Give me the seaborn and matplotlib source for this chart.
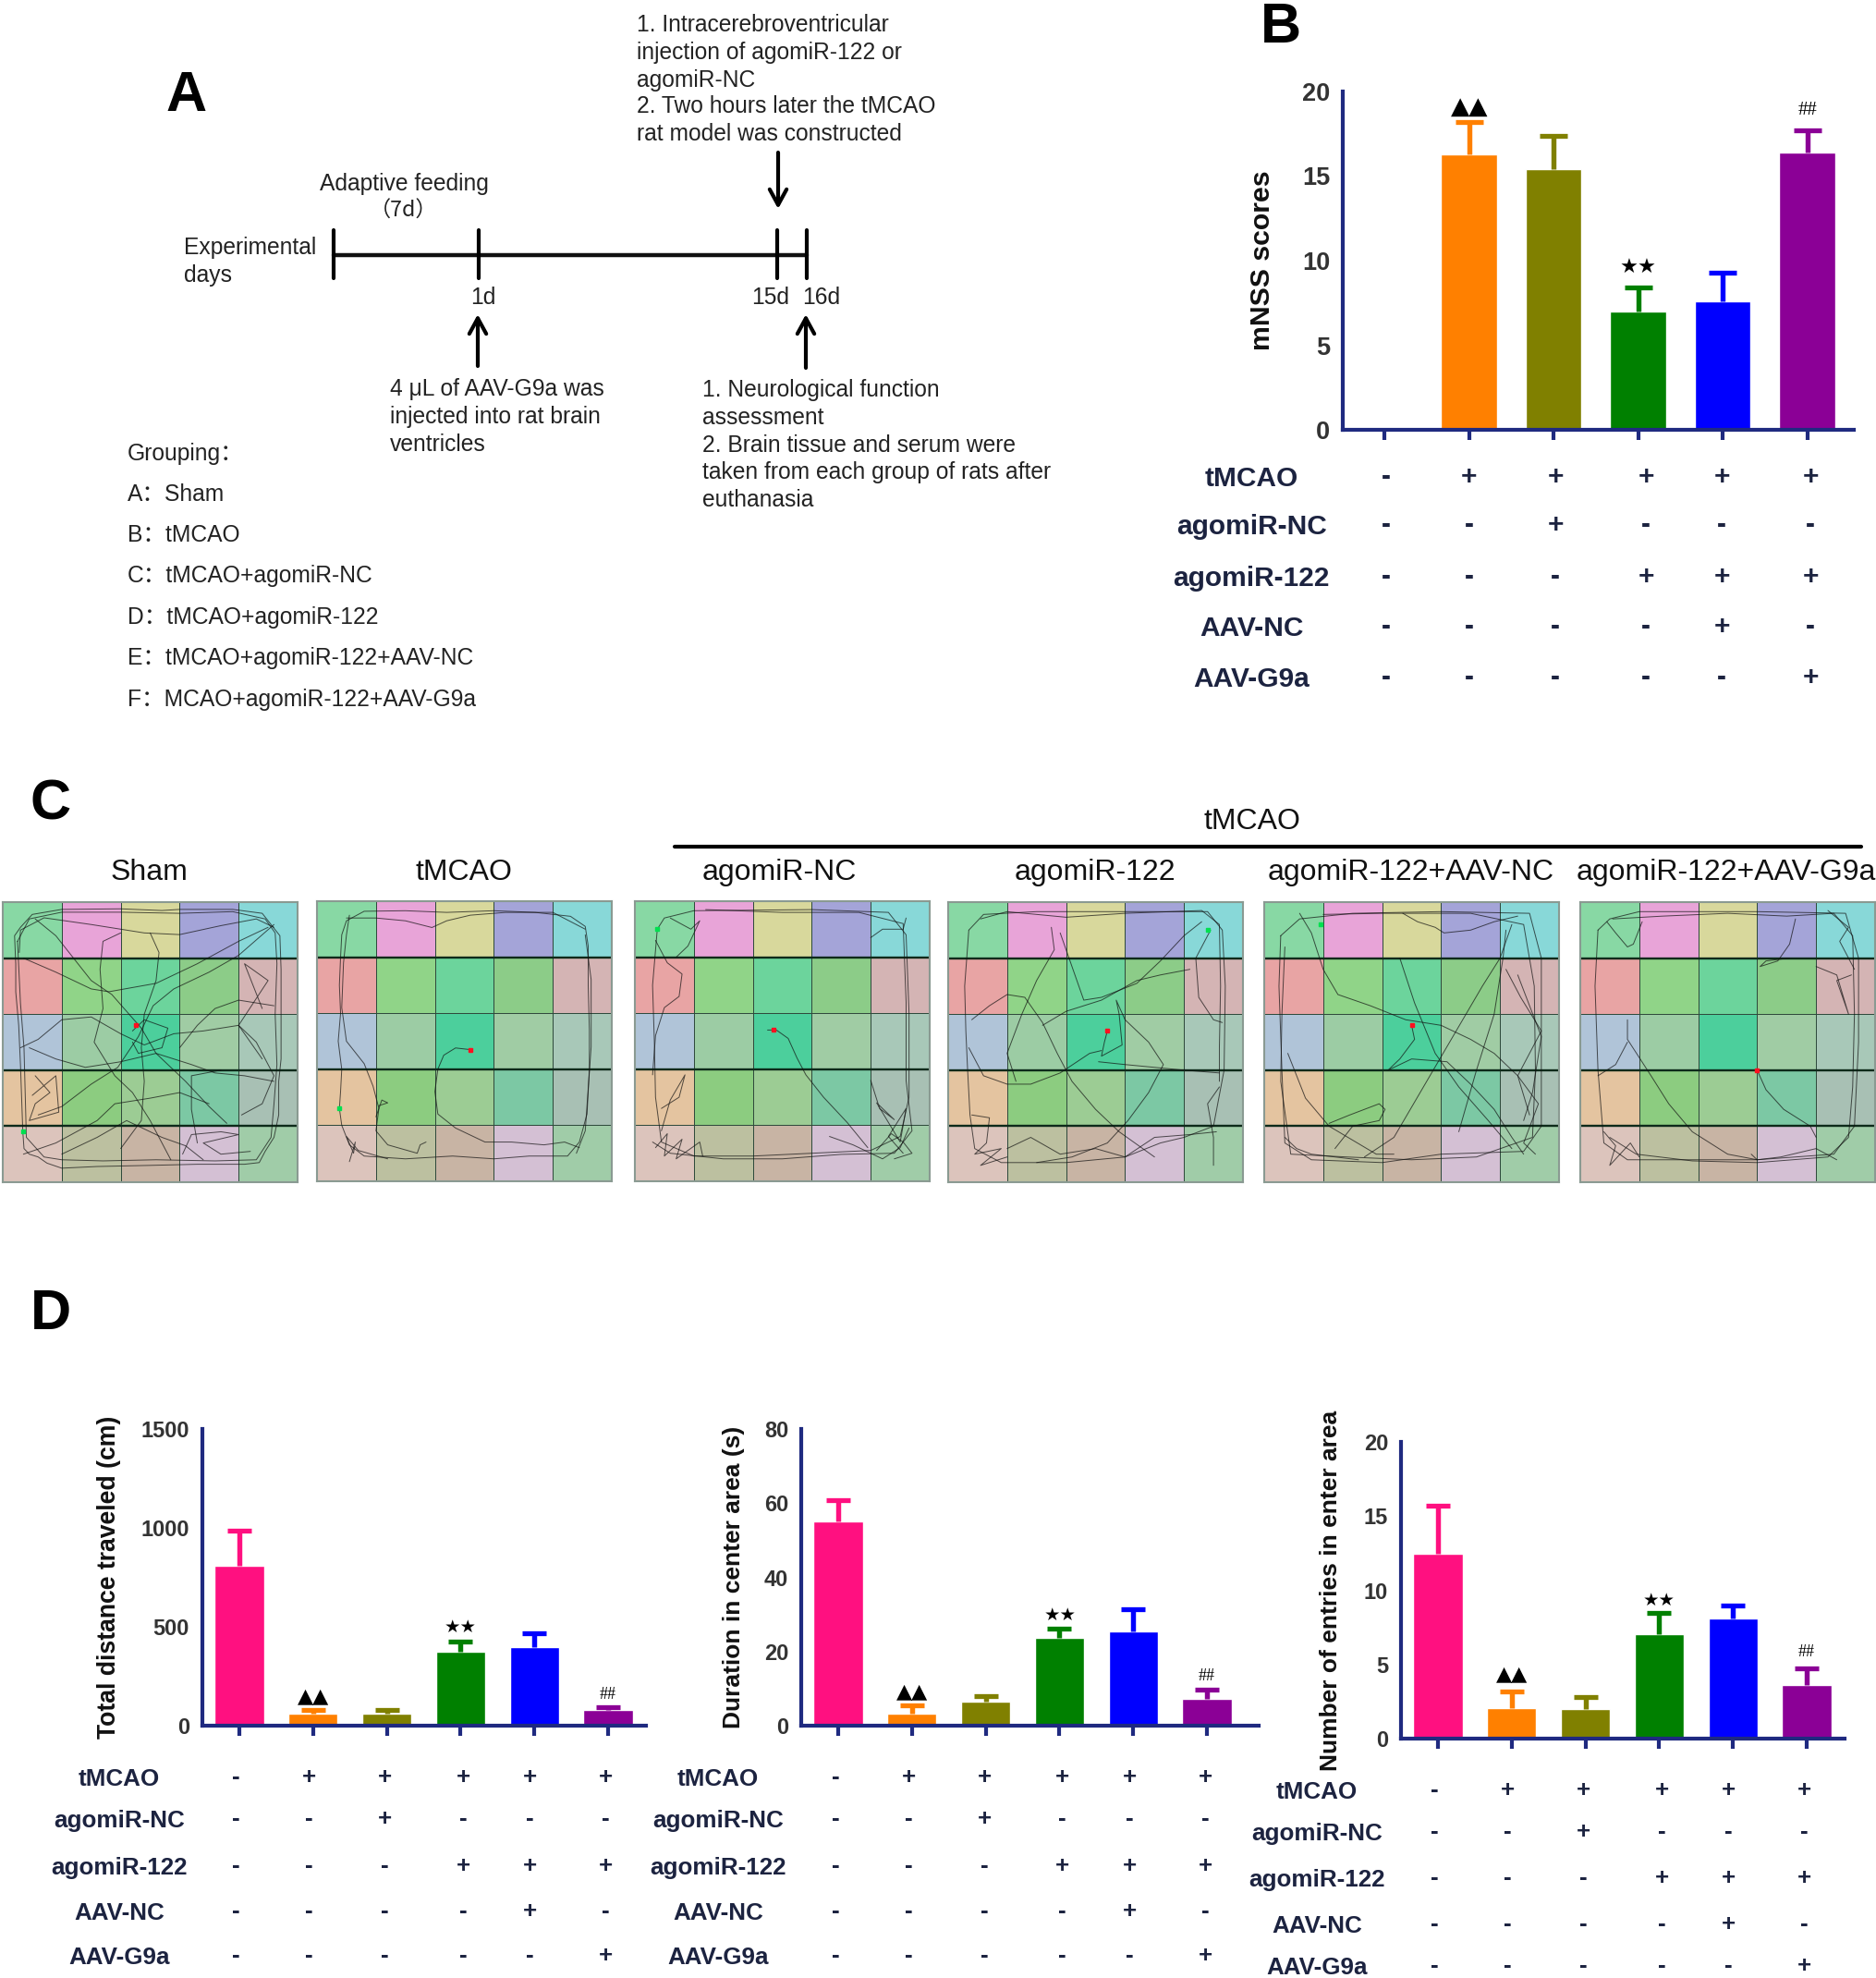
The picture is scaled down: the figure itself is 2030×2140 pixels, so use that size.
import numpy as np
import seaborn as sns
import matplotlib
matplotlib.use('Agg')
import matplotlib.pyplot as plt
from matplotlib.colors import ListedColormap

W, H = 2031, 2140

groups = ['Sham', 'tMCAO', 'agomiR-NC', 'agomiR-122', 'AAV-NC', 'AAV-G9a']
bar_colors = ['#ff1080', '#ff8000', '#808000', '#008000', '#0000ff', '#8b0096']

mnss_mean = [0, 16.3, 15.4, 7.0, 7.6, 16.4]
mnss_top = [0, 18.2, 17.4, 8.4, 9.3, 17.7]
dist_mean = [810, 60, 60, 375, 395, 80]
dist_top = [985, 80, 78, 425, 465, 95]
dur_mean = [55, 3.3, 6.5, 23.6, 25.3, 7.2]
dur_top = [60.8, 5.4, 8, 26.1, 31.3, 9.7]
entry_mean = [12.45, 2.06, 2, 7.07, 8.07, 3.62]
entry_top = [15.7, 3.2, 2.8, 8.46, 9, 4.76]

row_names = ['tMCAO', 'agomiR-NC', 'agomiR-122', 'AAV-NC', 'AAV-G9a']
row_signs = ['-+++++', '--+---', '---+++', '----+-', '-----+']

cell_colors = ['#88d8a4', '#e8a4d8', '#d8d89c', '#a4a4d8', '#88d8d8',
               '#e8a4a4', '#90d488', '#6cd49c', '#8ccc88', '#d4b4b4',
               '#b0c4d8', '#9ccca4', '#4ccf9c', '#a0cca4', '#a8c8b8',
               '#e4c4a0', '#8ccc80', '#9ccc94', '#7cc8a4', '#a8c0b4',
               '#dcc4bc', '#bcc0a0', '#c8b4a4', '#d4c0d4', '#a0cca8']

track_titles = ['Sham', 'tMCAO', 'agomiR-NC', 'agomiR-122', 'agomiR-122+AAV-NC', 'agomiR-122+AAV-G9a']

# paths, in cell units of the 5x5 arena
tracks_sham = [
    [(.34,4.1),(.36,4.4),(.45,4.5),(.6,4.55),(.75,4.66),(1,4.75),(1.6,4.72),(2.5,4.7),(3.3,4.68),(4.1,4.68),(4.35,4.65),(4.45,4.45),(4.6,4.2),(4.68,3.8),(4.68,3.2),(4.72,2.8),(4.72,2),(4.72,1.2),(4.7,.6),(4.55,.4),(4.4,.2),(3.9,.13),(3,.13),(2.7,.15),(2,.12),(1,.13),(.5,.22),(.3,.45),(.2,.6),(.22,1.1),(.22,1.6),(.27,2.2),(.3,2.9),(.32,3.5),(.34,4.1)],
    [(.25,.7),(.45,.3),(1,.18),(2,.18),(3,.2),(3.9,.17),(4.45,.3),(4.62,.55),(4.65,1.1),(4.62,2),(4.65,2.9),(4.6,3.6),(4.55,4.2),(4.3,4.6),(3.6,4.62),(2.6,4.6),(1.7,4.62),(1,4.6),(.7,4.55),(.4,4.2),(.38,3.4),(.36,2.6),(.3,1.8),(.25,.7)],
    [(.28,.9),(.3,.5),(.7,.28),(1.5,.4),(2.4,.55),(3,.58),(3.7,.42),(4.3,.3),(4.6,.45)],
    [(.55,.3),(.9,.6),(1.2,1),(1.5,1.4),(1.85,1.65),(2.1,1.95),(2.35,2.25),(2.6,2.7),(3.1,3.2),(3.5,3.65),(3.8,3.95)],
    [(4.6,.4),(4,.95),(3.5,1.25),(2.9,1.55),(2.55,1.85),(2.3,2.4),(1.95,2.95),(1.5,3.25),(1,3.65),(.6,3.8)],
    [(.35,1),(.9,1.25),(1.5,1.55),(1.8,1.6),(2.6,1.45),(3.3,1.1),(4,.7),(4.5,.45)],
    [(2,.55),(1.7,.7),(1.65,1.2),(1.7,1.9),(1.55,2.5),(1.9,3.1),(2.2,3.4),(2.5,3.9),(2.85,4.6)],
    [(2.5,.55),(2.65,.9),(2.6,1.4),(2.4,2),(2.35,2.6),(2.4,3.2),(2.35,3.9),(2,4.4)],
    [(.3,2.6),(.6,2.45),(1,2.1),(1.5,2.05),(2,2.35),(2.4,2.55),(2.9,2.35),(3.4,2.3),(4,2.2),(4.4,2.8)],
    [(.45,2.6),(.9,2.8),(1.4,2.95),(2,2.85),(2.6,2.7),(3.2,2.9),(3.6,3.05),(4.1,3.1),(4.6,3.2)],
    [(.55,3.1),(.8,3.4),(.55,3.6),(.45,3.9),(.95,3.75),(.9,3.1),(.5,3.45)],
    [(.35,4.5),(.9,4.3),(1.6,3.9),(1.9,3.6),(2.5,3.5),(3,3.4),(3.5,3.6)],
    [(1,4.5),(1.6,4.2),(2.1,3.9),(2.7,4.2),(3.1,4.35),(3.4,4.6)],
    [(3.05,4.5),(3.2,4.15),(3.7,4.1),(4,4.15),(3.4,4.3),(3.7,4.5),(4.2,4.45)],
    [(4.05,3.8),(4.4,3.6),(4.6,3.1),(4.3,2.5),(4,2.2),(4.5,1.4),(4.1,1.1),(4.4,1.9)],
    [(2.2,2.3),(2.4,2.1),(2.8,2.25),(2.7,2.6),(2.3,2.7),(2.2,2.5)],
    [(3,2.6),(3.3,2.2),(3.6,1.9),(4,1.75),(4.6,1.85)],
    [(3.7,3),(3.2,3.1),(3.2,3.7),(3.3,4.3)],
]
tracks_tmcao = [
    [(.38,3.7),(.4,3.4),(.42,3),(.36,2.5),(.4,2),(.38,1.5),(.4,1),(.42,.6),(.5,.35),(.8,.18),(1.5,.17),(2.2,.2),(3,.17),(3.7,.2),(4.3,.27),(4.55,.45),(4.6,.8),(4.6,1.5),(4.62,2.3),(4.62,3),(4.58,3.8),(4.45,4.3),(4.25,4.55),(3.6,4.55),(3,4.6),(2.3,4.55),(1.5,4.6),(.8,4.55),(.55,4.35),(.42,4),(.38,3.7)],
    [(.55,.25),(.5,.6),(.45,1.1),(.42,1.9),(.5,2.5),(.8,2.9),(.95,3.3),(1.05,3.7),(1,4.1),(1.2,4.35),(1.7,4.5),(1.75,4.35),(1.85,4.3)],
    [(.5,.3),(1,.3),(1.5,.35),(1.95,.47),(2.2,.35),(2.6,.25),(3.2,.2),(4,.2),(4.55,.5)],
    [(2.6,2.65),(2.35,2.62),(2.15,2.75),(2.05,3),(2,3.4),(2.05,3.8),(2.35,4.05),(2.85,4.3),(3.3,4.3),(3.85,4.35),(4.2,4.3),(4.45,4.4)],
    [(.55,4.65),(.65,4.3),(.62,4.5),(.5,4.2),(.7,4.45),(1.2,4.6)],
    [(1.05,3.65),(1.2,3.6),(1.1,3.55),(1,3.85)],
    [(4.55,.6),(4.65,1.4),(4.65,2.6),(4.55,4.1),(4.4,4.5)],
]
tracks_nc = [
    [(.38,.5),(.3,1.5),(.33,2.5),(.35,3.5),(.45,4.3),(1,4.55),(2,4.55),(3,4.5),(4,4.45),(4.5,4.2),(4.65,3.5),(4.65,2),(4.6,.6),(4.3,.2),(3,.15),(1,.17),(.5,.3),(.38,.5)],
    [(.3,4.3),(.6,4.5),(1.5,4.6),(2.5,4.6),(3.5,4.52),(4.4,4.5),(4.7,4.1),(4.6,3.2),(4.6,1.8),(4.55,.4),(3.8,.2),(2.5,.2),(1.2,.15)],
    [(2.25,2.3),(2.4,2.3),(2.6,2.45),(2.75,2.8),(2.9,3.1),(3.2,3.5),(3.6,3.95),(3.95,4.4)],
    [(.35,.7),(.55,1.1),(.8,1.3),(.75,1.7),(.5,1.9),(.35,2.4),(.3,3.1)],
    [(.6,.3),(.95,.5),(1.1,.35),(.9,.8),(.7,1)],
    [(.45,3.7),(.75,3.5),(.85,3.1),(.6,3.55),(.45,4.1)],
    [(.35,4.4),(.55,4.15),(.5,4.55),(.8,4.25),(.7,4.6),(1.1,4.3),(1.15,4.55)],
    [(3.3,4.2),(3.7,4.35),(4.2,4.6),(4.5,4.4),(4.65,4.05)],
    [(4,3.2),(4.15,3.7),(4.4,3.9),(4.1,3.6),(4.5,4.3),(4.6,3.7),(4.3,4.2),(4.55,4.5)],
    [(4,.65),(4.2,.5),(4.55,.5),(4.6,.3)],
    [(4.1,4.45),(4.35,4.15),(4.55,4.3),(4.7,4.5),(4.4,4.6)],
]
tracks_122 = [
    [(.35,.5),(.28,1.5),(.3,2.3),(.33,3),(.37,3.8),(.45,4.4),(.9,4.65),(2,4.65),(3,4.55),(3.6,4.3),(4,4.2),(4.5,4),(4.68,3),(4.7,1.5),(4.65,.5),(4.4,.17),(3,.17),(1.5,.17),(.6,.22),(.35,.5)],
    [(.55,.3),(1,.17),(2,.27),(3,.2),(4.3,.15),(4.6,.4),(4.62,1.5),(4.6,2.6),(4.6,3.2)],
    [(2.7,2.3),(2.65,2.5),(2.6,2.75),(2.95,2.55),(2.9,2),(2.85,1.75),(3,2.1),(3.4,2.5),(3.65,2.9),(3.4,3.4),(3.05,3.9),(2.7,4.3),(2.1,4.55),(1.5,4.65)],
    [(2.55,2.85),(3,2.9),(3.5,2.95),(4,3),(4.6,3.05)],
    [(.35,2.6),(.6,3.1),(1,3.25),(1.4,3.25),(1.9,3.05),(2.4,2.7),(2.6,2.65)],
    [(.4,2.1),(.7,1.85),(1,1.65),(1.3,1.7),(1.6,2.15),(1.85,2.7),(2.1,3.2),(2.5,3.7),(2.9,4.1),(3.3,4.4),(3.5,4.55)],
    [(1.75,.45),(1.8,.85),(1.5,1.4),(1.25,2),(1,2.7),(1.15,3.2)],
    [(1.6,2.2),(2,1.95),(2.6,1.75),(3.2,1.4),(3.6,1.3),(4.1,1.2)],
    [(1.9,.55),(2.1,1.15),(2.3,1.75),(2.6,1.7),(3.2,1.45),(3.6,1.05),(4,.6),(4.3,.35)],
    [(.4,3.8),(.7,3.85),(.65,4.3),(.45,4.5),(.9,4.4),(.55,4.7),(1,4.55)],
    [(1,4.4),(1.4,4.2),(1.9,4.5),(2.5,4.4),(3,4.55),(3.5,4.2),(4.1,4.15),(4.55,4.1)],
    [(4.45,.5),(4.2,1),(4.25,1.7),(4.5,2.1),(4.65,2.15)],
    [(4.5,4.7),(4.5,4.2),(4.4,3.6),(4.6,3.3)],
]
tracks_nc_aav = [
    [(.28,.6),(.25,1.5),(.3,3),(.35,4.3),(.8,4.6),(2,4.65),(3,4.5),(4.4,4.45),(4.7,4),(4.7,2.5),(4.7,1),(4.5,.2),(3,.17),(1.5,.2),(.6,.3),(.28,.6)],
    [(.35,.8),(.3,2),(.28,3.2),(.45,4.5),(1.4,4.55),(2.5,4.6),(3.6,4.55),(4.55,4.2),(4.6,3),(4.58,1.5),(4.4,.4),(3.5,.2),(2,.2),(1,.22)],
    [(2.5,2.2),(2.55,2.45),(2.3,2.8),(2.1,3),(2.5,2.8),(3.1,2.85),(3.5,3.25),(3.9,3.7),(4.2,4.2),(4.4,4.5)],
    [(.6,.2),(.8,.55),(1,1.2),(1.25,1.65),(1.8,1.85),(2.4,2.1),(3,2.2),(3.5,2.45),(3.9,2.7),(4.3,3.1),(4.5,3.8)],
    [(2.35,.2),(2.6,.35),(2.9,.45),(3.05,.55),(3.5,.5),(3.9,.35),(4.3,.25)],
    [(1.1,3.95),(1.45,3.8),(1.95,3.6),(2.05,3.7),(1.95,3.9),(1.5,4),(1.2,4.4)],
    [(4.2,.4),(4,1),(3.7,1.5),(3.2,2.4),(2.7,3.3),(2.2,4.2),(1.7,4.55)],
    [(2.3,1),(2.55,1.8),(2.9,2.7),(3.3,3.3),(3.8,3.9),(4.2,4.4)],
    [(.4,2.7),(.7,3.5),(1.1,4),(1.9,4.5),(2.2,4.5)],
    [(4.1,1.2),(4.35,1.7),(4.7,2.3),(4.3,3.1),(4.65,3.6),(4.4,4.3),(4.6,4.5)],
    [(.35,4.2),(.55,4.4),(.8,4.5),(1.6,4.6)],
    [(4.1,.5),(4.05,1),(3.9,2),(3.6,3),(3.3,4.1)],
    [(4.3,1.3),(4.7,2.4),(4.55,3.4),(4.4,3.9)],
]
tracks_g9a = [
    [(.3,.5),(.25,1.5),(.3,3),(.4,4.3),(.8,4.6),(2,4.6),(3,4.6),(4.3,4.5),(4.65,4),(4.72,2.5),(4.72,1),(4.5,.2),(3,.17),(1,.17),(.5,.3),(.3,.5)],
    [(.55,.3),(1.4,.25),(2.5,.2),(3.5,.25),(4.3,.2),(4.62,.6),(4.65,2),(4.62,3.3),(4.55,4.2),(4.2,4.55),(3,4.65),(1.9,4.62),(.95,4.5),(.5,4.2)],
    [(.8,2.1),(.8,2.45),(1.2,3.1),(1.5,3.6),(1.9,4.1),(2.5,4.5),(3,4.6)],
    [(3,3),(3.15,3.35),(3.45,3.7),(3.9,4),(4,4.2)],
    [(.8,2.5),(.6,2.9),(.3,3.1)],
    [(.45,.35),(.6,.55),(.8,.8),(.9,.75),(1.05,.35)],
    [(3.65,.3),(3.55,.75),(3.35,1.05),(3.05,1.15),(3.15,1.05),(3.55,1)],
    [(4,1.15),(4.35,1.3),(4.55,2),(4.35,1.4),(4.6,1.3)],
    [(.4,4.1),(.6,4.35),(.5,4.7),(.85,4.3),(1,4.55)],
    [(4.2,.15),(4.55,.45),(4.4,.7),(4.65,1.2)],
    [(2.9,4.5),(3,4.6),(3.4,4.55),(4,4.4),(4.35,4.6)],
]
all_tracks = [tracks_sham, tracks_tmcao, tracks_nc, tracks_122, tracks_nc_aav, tracks_g9a]
start_pts = [(.34,4.1),(.38,3.7),(.38,.5),(4.4,.5),(.95,.4),None]
end_pts = [(2.25,2.2),(2.6,2.65),(2.35,2.3),(2.7,2.3),(2.5,2.2),(3,3)]
heavy_rows = [[1, 3, 4], [1, 3], [1, 3], [1, 3, 4], [1, 3, 4], [1, 3, 4]]

sns.set_theme(style='white')
plt.rcParams['font.family'] = ['Liberation Sans', 'DejaVu Sans']

fig = plt.figure(figsize=(W / 100, H / 100), dpi=100, facecolor='white')


def px_axes(x0, y0, x1, y1):
    return fig.add_axes([x0 / W, 1 - y1 / H, (x1 - x0) / W, (y1 - y0) / H])


def bar_panel(box, c0, step, mean, top, ymax, yticks, ylabel, tick_fs, label_fs, label_x, cap):
    ax = px_axes(*box)
    sns.barplot(x=list(range(6)), y=mean, hue=list(range(6)), palette=bar_colors, legend=False,
                width=0.665, ax=ax, saturation=1, native_scale=True)
    for i in range(6):
        if mean[i] > 0:
            ax.vlines(i, mean[i], top[i], color=bar_colors[i], lw=3.9, zorder=1)
            ax.plot(i, top[i], marker='_', ms=cap, mew=3.8, color=bar_colors[i], zorder=1, clip_on=False)
    ax.set_xlim((box[0] - c0) / step, (box[2] - c0) / step)
    ax.set_ylim(0, ymax)
    ax.set_yticks(yticks)
    ax.set_xticks(range(6))
    ax.set_xticklabels([])
    ax.tick_params(axis='y', length=8, width=3, color='#1f2a80', labelsize=tick_fs, labelcolor='#333333', pad=2)
    ax.tick_params(axis='x', length=8, width=3, color='#1f2a80', bottom=True)
    for lab in ax.get_yticklabels():
        lab.set_fontweight('bold')
    for s in ['top', 'right']:
        ax.spines[s].set_visible(False)
    for s in ['left', 'bottom']:
        ax.spines[s].set_color('#1f2a80')
        ax.spines[s].set_linewidth(3)
    ax.patch.set_alpha(0)
    over.text(label_x, (box[1] + box[3]) / 2, ylabel, rotation=90, ha='center', va='center',
              fontsize=label_fs, fontweight='bold', color='#111111')
    return ax


def sign_table(xs, ys, name_x, fs):
    for r, y in enumerate(ys):
        over.text(name_x, y + 2, row_names[r], ha='center', va='center', fontsize=fs, fontweight='bold', color='#1c2340')
        for c, x in enumerate(xs):
            over.text(x, y, row_signs[r][c], ha='center', va='center', fontsize=fs, fontweight='bold', color='#1c2340')


# overlay in picture pixels for all the loose text
over = fig.add_axes([0, 0, 1, 1], zorder=5)
over.set_xlim(0, W)
over.set_ylim(H, 0)
over.axis('off')

for letter, x, y in [('A', 202, 104), ('B', 1386, 30), ('C', 55, 871), ('D', 55, 1422)]:
    over.text(x, y, letter, ha='center', va='center', fontsize=44, fontweight='bold', color='black')

# panel A
a_fs = 17.7
a_col = '#222222'
for x, ys, lines in [
    (689, [27, 57, 87, 115, 145], ['1. Intracerebroventricular', 'injection of agomiR-122 or', 'agomiR-NC',
                                   '2. Two hours later the tMCAO', 'rat model was constructed']),
    (199, [268, 298], ['Experimental', 'days']),
    (422, [421, 451, 481], ['4 μL of AAV-G9a was', 'injected into rat brain', 'ventricles']),
    (760, [422, 452, 482, 511, 541], ['1. Neurological function', 'assessment', '2. Brain tissue and serum were',
                                      'taken from each group of rats after', 'euthanasia']),
    (138, [491, 535, 579, 623, 668, 712, 757], ['Grouping：', 'A：Sham', 'B：tMCAO', 'C：tMCAO+agomiR-NC',
                                                'D：tMCAO+agomiR-122', 'E：tMCAO+agomiR-122+AAV-NC',
                                                'F：MCAO+agomiR-122+AAV-G9a']),
]:
    for y, t in zip(ys, lines):
        over.text(x, y, t, ha='left', va='center', fontsize=a_fs, color=a_col,
                  family=['Liberation Sans', 'Noto Sans CJK SC'])
over.text(437, 199, 'Adaptive feeding', ha='center', va='center', fontsize=a_fs, color=a_col)
over.text(437, 228, '（7d）', ha='center', va='center', fontsize=a_fs - 1, color=a_col,
          family=['Noto Sans CJK SC', 'DejaVu Sans'])
for x, t in [(523, '1d'), (834, '15d'), (889, '16d')]:
    over.text(x, 322, t, ha='center', va='center', fontsize=a_fs, color=a_col)
over.plot([361, 873], [276, 276], color='#111111', lw=3.2)
for x in [361, 518, 841, 873]:
    over.plot([x, x], [249, 301], color='black', lw=3)
for x, y0, y1 in [(842, 165, 226), (517, 396, 340), (872, 398, 340)]:
    over.annotate('', xy=(x, y1), xytext=(x, y0),
                  arrowprops=dict(arrowstyle='->,head_length=0.55,head_width=0.3', color='black', lw=3,
                                  mutation_scale=22, shrinkA=0, shrinkB=0))

# panel C
over.plot([730, 2014], [916, 916], color='black', lw=3)
over.text(1355, 889, 'tMCAO', ha='center', va='center', fontsize=23, color='#111111')
arena_x = [3, 343, 687, 1026, 1368, 1710]
arena_y = [976, 975, 975, 976, 976, 976]
title_x = [161, 502, 843, 1185, 1527, 1868]
for i in range(6):
    ax = px_axes(arena_x[i], arena_y[i], arena_x[i] + 319, arena_y[i] + 303)
    cells = np.arange(25).reshape(5, 5)
    sns.heatmap(cells, cmap=ListedColormap(cell_colors), cbar=False, linewidths=0.7, linecolor='#2f4a3c',
                xticklabels=False, yticklabels=False, ax=ax)
    ax.hlines(heavy_rows[i], 0, 5, color='#0d2a1a', lw=1.7)
    for path in all_tracks[i]:
        xs = [p[0] for p in path]
        ys = [p[1] for p in path]
        ax.plot(xs, ys, color='#111111', lw=0.7, alpha=0.7)
    if start_pts[i] is not None:
        ax.plot(*start_pts[i], 's', ms=2.5, color='#00e050')
    ax.plot(*end_pts[i], 's', ms=2.5, color='#ff1020')
    for s in ax.spines.values():
        s.set_visible(True)
        s.set_color('#8a9a92')
        s.set_linewidth(1.5)
    over.text(title_x[i], 944, track_titles[i], ha='center', va='center', fontsize=23, color='#111111')

# panel B
bar_panel((1453, 99, 2006, 465), 1498, 91.5, mnss_mean, mnss_top, 20, [0, 5, 10, 15, 20], 'mNSS scores', 19.5, 21.8, 1366, 22)
sign_table([1500, 1590, 1683, 1781, 1863, 1959], [516, 568, 624, 678, 733], 1354, 21.5)

# panel D
bar_panel((219, 1546, 699, 1867), 259, 79.8, dist_mean, dist_top, 1500, [0, 500, 1000, 1500],
          'Total distance traveled (cm)', 17, 19.2, 118, 19)
sign_table([255, 334, 416, 501, 573, 655], [1923, 1968, 2019, 2068, 2116], 129, 18.7)
bar_panel((867, 1546, 1362, 1867), 907, 79.8, dur_mean, dur_top, 80, [0, 20, 40, 60, 80],
          'Duration in center area (s)', 17, 19, 794, 19)
sign_table([904, 983, 1065, 1149, 1222, 1304], [1923, 1968, 2019, 2068, 2116], 777, 18.7)
bar_panel((1516, 1560, 1996, 1881), 1556, 79.8, entry_mean, entry_top, 20, [0, 5, 10, 15, 20],
          'Number of entries in enter area', 17, 19, 1440, 19)
sign_table([1552, 1631, 1713, 1798, 1870, 1952], [1937, 1982, 2032, 2082, 2127], 1425, 18.7)

# significance marks
for x, y, t, fs in [(1590, 116, '▲▲', 19), (1773, 290, '★★', 16), (1956, 120, '##', 15),
                    (339, 1835, '▲▲', 16), (498, 1760, '★★', 14), (658, 1834, '##', 13),
                    (987, 1830, '▲▲', 16), (1147, 1747, '★★', 14), (1306, 1814, '##', 13),
                    (1636, 1811, '▲▲', 16), (1795, 1731, '★★', 14), (1955, 1787, '##', 13)]:
    over.text(x, y, t, ha='center', va='center', fontsize=fs, color='black',
              family=['DejaVu Sans'] if t != '##' else ['Liberation Serif'])

fig.savefig('out.png', dpi=100, facecolor='white')
